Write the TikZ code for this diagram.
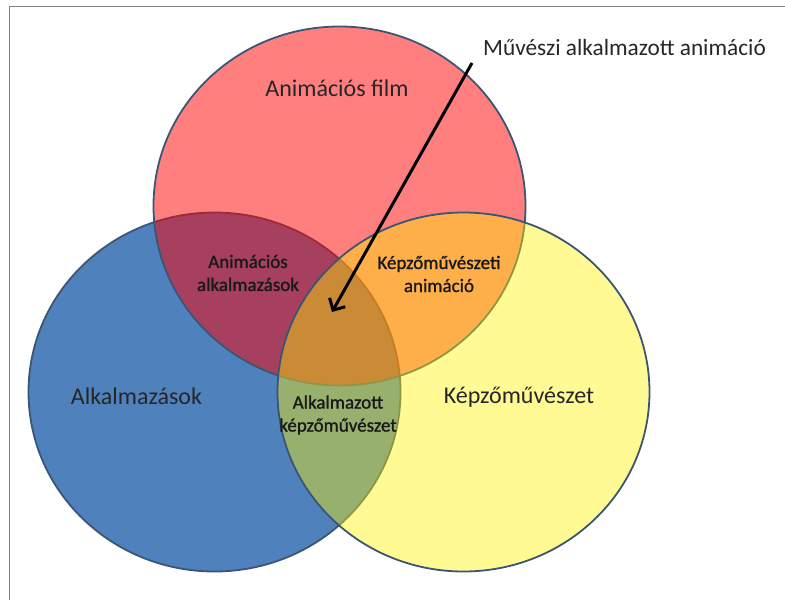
\documentclass[tikz,border=0pt]{standalone}
\usepackage{fontspec}
\setmainfont{Carlito}
\newfontfamily\labelfont[FakeBold=1.2]{Carlito}
\usetikzlibrary{shapes.geometric,arrows.meta}
\definecolor{bluefill}{HTML}{4F81BD}
\definecolor{outl}{HTML}{3B5675}
\definecolor{framec}{HTML}{7F7F7F}
\begin{document}
\begin{tikzpicture}[x=1pt,y=-1pt,
  venn/.style={ellipse, minimum width=372pt, minimum height=359pt, draw=outl, line width=1.8pt, inner sep=0pt},
  biglabel/.style={font=\fontsize{24}{26}\selectfont, text=black!85, inner sep=0pt},
  smalllabel/.style={font=\labelfont\fontsize{19}{23}\selectfont, text=black!90, align=center, inner sep=0pt},
  pointer/.style={line width=3pt, -{Straight Barb[length=9pt,width=18pt,line width=3pt]}}
]
\useasboundingbox (0,0) rectangle (785,600);
\draw[framec, line width=1.5pt] (9.5,610) |- (790,6.5);
% circles
\node[venn, fill=bluefill] (alk) at (214.5,392) {};
\node[venn, fill=red, fill opacity=0.5] (anim) at (339.5,206) {};
\node[venn, fill=yellow, fill opacity=0.42] (kep) at (463.5,392) {};
% labels
\node[biglabel] (lanim) at (337,88) {Animációs film};
\node[biglabel] (lalk) at (136.5,396) {Alkalmazások};
\node[biglabel] (lkep) at (519,397) {Képzőművészet};
\node[biglabel, font=\fontsize{23.3}{26}\selectfont] (lmuv) at (624.5,47) {Művészi alkalmazott animáció};
\node[smalllabel] (lanimalk) at (248,273) {Animációs\\alkalmazások};
\node[smalllabel] (lkepanim) at (439,274) {Képzőművészeti\\animáció};
\node[smalllabel] (lalkkep) at (338,415) {Alkalmazott\\képzőművészet};
% arrow
\coordinate (astart) at (472,63);
\coordinate (atip) at (332,312);
\draw[pointer] (astart) -- (atip);
\end{tikzpicture}
\end{document}
